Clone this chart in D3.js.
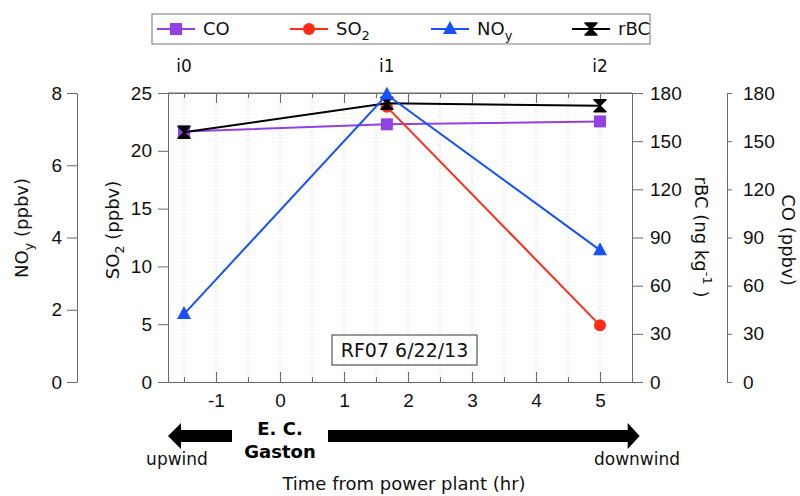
<!DOCTYPE html>
<html>
<head>
<meta charset="utf-8">
<script src="https://cdn.jsdelivr.net/npm/d3@7"></script>
<style>
    body { margin: 0; background: #fff; }
    svg { font-family: "DejaVu Sans", sans-serif; }
    .axis path, .axis line { stroke: #6a6a6a; }
    .axis text { fill: #111; font-size: 19px; }
</style>
</head>
<body>
<svg width="800" height="496"></svg>
<script>
// 数据
var transects = ["i0", "i1", "i2"];
var hours = [-1.5, 1.67, 5.0];
var coValues = [156, 160.5, 162.3];
var so2Values = [null, 23.8, 4.9];
var noyValues = [1.88, 7.95, 3.65];
var rbcValues = [155.5, 173.6, 172.1];
var noyTicks = [0, 2, 4, 6, 8];
var so2Ticks = [0, 5, 10, 15, 20, 25];
var rightTicks = [0, 30, 60, 90, 120, 150, 180];
var hourTicks = [-1, 0, 1, 2, 3, 4, 5];
var halfTicks = [-1.5, -1, -0.5, 0, 0.5, 1, 1.5, 2, 2.5, 3, 3.5, 4, 4.5, 5];

var colors = { co: "#9241e4", so2: "#ff2b17", noy: "#1650ff", rbc: "#000" };

var svg = d3.select("svg");
var plotTop = 93, plotBottom = 382, plotLeft = 168, plotRight = 632;

var x = d3.scaleLinear().domain([-1.75, 5.5]).range([plotLeft, plotRight]);
var yNoy = d3.scaleLinear().domain([0, 8]).range([plotBottom, plotTop]);
var ySo2 = d3.scaleLinear().domain([0, 25]).range([plotBottom, plotTop]);
var yRbc = d3.scaleLinear().domain([0, 180]).range([plotBottom, plotTop]);
var yCo = d3.scaleLinear().domain([0, 180]).range([plotBottom, plotTop]);

//网格线
svg.append("g")
    .selectAll("line")
    .data(halfTicks)
    .enter()
    .append("line")
    .attr("x1", function (d) { return x(d) })
    .attr("x2", function (d) { return x(d) })
    .attr("y1", plotTop)
    .attr("y2", plotBottom)
    .attr("stroke", "#cfcfcf")
    .attr("stroke-dasharray", "1,2");

//上边框
svg.append("line")
    .attr("x1", plotLeft).attr("x2", plotRight)
    .attr("y1", plotTop).attr("y2", plotTop)
    .attr("stroke", "#6a6a6a");

//x轴
svg.append("g").classed("axis", true)
    .attr("transform", "translate(0," + plotBottom + ")")
    .call(d3.axisBottom(x).tickValues(halfTicks).tickSize(-5).tickSizeOuter(0).tickFormat(""));
svg.append("g").classed("axis", true)
    .attr("transform", "translate(0," + plotBottom + ")")
    .call(d3.axisBottom(x).tickValues(hourTicks).tickSize(-10).tickSizeOuter(0).tickPadding(12)
        .tickFormat(function (d) { return String(d); }));
svg.append("g").classed("axis", true)
    .attr("transform", "translate(0," + plotTop + ")")
    .call(d3.axisTop(x).tickValues(halfTicks).tickSize(-5).tickSizeOuter(0).tickFormat(""));
svg.append("g").classed("axis", true)
    .attr("transform", "translate(0," + plotTop + ")")
    .call(d3.axisTop(x).tickValues(hourTicks).tickSize(-10).tickSizeOuter(0).tickFormat(""));

//y轴
svg.append("g").classed("axis", true)
    .attr("transform", "translate(77,0)")
    .call(d3.axisLeft(yNoy).tickValues(noyTicks).tickSize(10).tickPadding(5).tickSizeOuter(0));
svg.append("g").classed("axis", true)
    .attr("transform", "translate(" + plotLeft + ",0)")
    .call(d3.axisLeft(ySo2).tickValues(so2Ticks).tickSize(10).tickPadding(6).tickSizeOuter(0));
svg.append("g").classed("axis", true)
    .attr("transform", "translate(" + plotRight + ",0)")
    .call(d3.axisRight(yRbc).tickValues(rightTicks).tickSize(11).tickPadding(7).tickSizeOuter(0));
svg.append("g").classed("axis", true)
    .attr("transform", "translate(727,0)")
    .call(d3.axisRight(yCo).tickValues(rightTicks).tickSize(5).tickPadding(11).tickSizeOuter(0));

//轴标题
function axisTitle(tx, ty, angle, main, sub, rest) {
    var t = svg.append("text")
        .attr("transform", "translate(" + tx + "," + ty + ") rotate(" + angle + ")")
        .attr("text-anchor", "middle")
        .attr("font-size", 18)
        .attr("fill", "#111");
    t.append("tspan").text(main);
    if (sub) {
        t.append("tspan").attr("font-size", 13).attr("dy", 5).text(sub);
        t.append("tspan").attr("dy", -5).text(rest);
    }
    return t;
}
axisTitle(28, 228, -90, "NO", "y", " (ppbv)");
axisTitle(119, 230, -90, "SO", "2", " (ppbv)");
axisTitle(782, 240, 90, "CO (ppbv)", "", "");
var rbcTitle = svg.append("text")
    .attr("transform", "translate(695,237) rotate(90)")
    .attr("text-anchor", "middle")
    .attr("font-size", 18)
    .attr("fill", "#111");
rbcTitle.append("tspan").text("rBC (ng kg");
rbcTitle.append("tspan").attr("font-size", 13).attr("dy", -8).text("-1");
rbcTitle.append("tspan").attr("dy", 8).text(" )");

//标记
function marker(sel, type) {
    if (type == "co") {
        sel.append("rect").attr("x", -6).attr("y", -6).attr("width", 12).attr("height", 12)
            .attr("fill", colors.co);
    } else if (type == "so2") {
        sel.append("circle").attr("r", 6).attr("fill", colors.so2);
    } else if (type == "noy") {
        sel.append("path").attr("d", "M0,-8L7,5L-7,5Z").attr("fill", colors.noy);
    } else if (type == "rbc") {
        sel.append("path").attr("d", "M-6,-6H6L0,0ZM-6,6H6L0,0Z")
            .attr("fill", colors.rbc).attr("stroke", colors.rbc).attr("stroke-width", 1.5)
            .attr("stroke-linejoin", "round");
    }
}

//创建一条线
function createSeries(type, values, yScale) {
    var pts = hours.map(function (h, i) {
        return { x: h, y: values[i] };
    }).filter(function (d) { return d.y != null; });
    var g = svg.append("g");
    g.append("path")
        .datum(pts)
        .attr("fill", "none")
        .attr("stroke", colors[type])
        .attr("stroke-width", 2)
        .attr("d", d3.line()
            .x(function (d) { return x(d.x) })
            .y(function (d) { return yScale(d.y) }));
    g.selectAll("g.pt")
        .data(pts)
        .enter()
        .append("g")
        .classed("pt", true)
        .attr("transform", function (d) {
            return "translate(" + x(d.x) + "," + yScale(d.y) + ")";
        })
        .each(function () { marker(d3.select(this), type); });
}
createSeries("co", coValues, yCo);
createSeries("so2", so2Values, ySo2);
createSeries("rbc", rbcValues, yRbc);
createSeries("noy", noyValues, yNoy);

//测线标签
svg.append("g")
    .selectAll("text")
    .data(transects)
    .enter()
    .append("text")
    .attr("x", function (d, i) { return x(hours[i]) })
    .attr("y", 72)
    .attr("text-anchor", "middle")
    .attr("font-size", 17)
    .attr("fill", "#111")
    .text(function (d) { return d; });

//图例
var legendItems = [
    { type: "co", label: "CO", sub: "", x: 157 },
    { type: "so2", label: "SO", sub: "2", x: 290 },
    { type: "noy", label: "NO", sub: "y", x: 431 },
    { type: "rbc", label: "rBC", sub: "", x: 572 }
];
svg.append("rect")
    .attr("x", 152).attr("y", 14).attr("width", 498).attr("height", 30)
    .attr("fill", "#fff").attr("stroke", "#777");
legendItems.forEach(function (d) {
    var g = svg.append("g");
    g.append("line")
        .attr("x1", d.x).attr("x2", d.x + 38).attr("y1", 29).attr("y2", 29)
        .attr("stroke", colors[d.type]).attr("stroke-width", 2);
    marker(g.append("g").attr("transform", "translate(" + (d.x + 19) + ",29)"), d.type);
    var t = g.append("text")
        .attr("x", d.x + 46).attr("y", 35)
        .attr("font-size", 18).attr("fill", "#111");
    t.append("tspan").text(d.label);
    if (d.sub) t.append("tspan").attr("font-size", 13).attr("dy", 5).text(d.sub);
});

//注释框
svg.append("rect")
    .attr("x", 332).attr("y", 335).attr("width", 145).attr("height", 30)
    .attr("fill", "#fff").attr("stroke", "#333");
svg.append("text")
    .attr("x", 404.5).attr("y", 357)
    .attr("text-anchor", "middle")
    .attr("font-size", 19).attr("fill", "#111")
    .text("RF07 6/22/13");

//箭头
var ay = 436;
svg.append("path")
    .attr("d", "M" + x(-1.75) + "," + ay + "L" + (x(-1.75) + 13) + "," + (ay - 13) + "V" + (ay - 6) +
        "H" + x(-0.75) + "V" + (ay + 6) + "H" + (x(-1.75) + 13) + "V" + (ay + 13) + "Z")
    .attr("fill", "#000");
svg.append("path")
    .attr("d", "M" + x(0.75) + "," + (ay - 6) + "H" + (x(5.62) - 12) + "V" + (ay - 13) + "L" + x(5.62) + "," + ay +
        "L" + (x(5.62) - 12) + "," + (ay + 13) + "V" + (ay + 6) + "H" + x(0.75) + "Z")
    .attr("fill", "#000");

svg.append("text").attr("x", x(0)).attr("y", 435).attr("text-anchor", "middle")
    .attr("font-size", 18).attr("font-weight", "bold").text("E. C.");
svg.append("text").attr("x", x(0)).attr("y", 458).attr("text-anchor", "middle")
    .attr("font-size", 18).attr("font-weight", "bold").text("Gaston");
svg.append("text").attr("x", 177).attr("y", 465).attr("text-anchor", "middle")
    .attr("font-size", 17).attr("fill", "#111").text("upwind");
svg.append("text").attr("x", 637).attr("y", 465).attr("text-anchor", "middle")
    .attr("font-size", 17).attr("fill", "#111").text("downwind");
svg.append("text").attr("x", 404).attr("y", 490).attr("text-anchor", "middle")
    .attr("font-size", 18).attr("fill", "#111").text("Time from power plant (hr)");
</script>
</body>
</html>
